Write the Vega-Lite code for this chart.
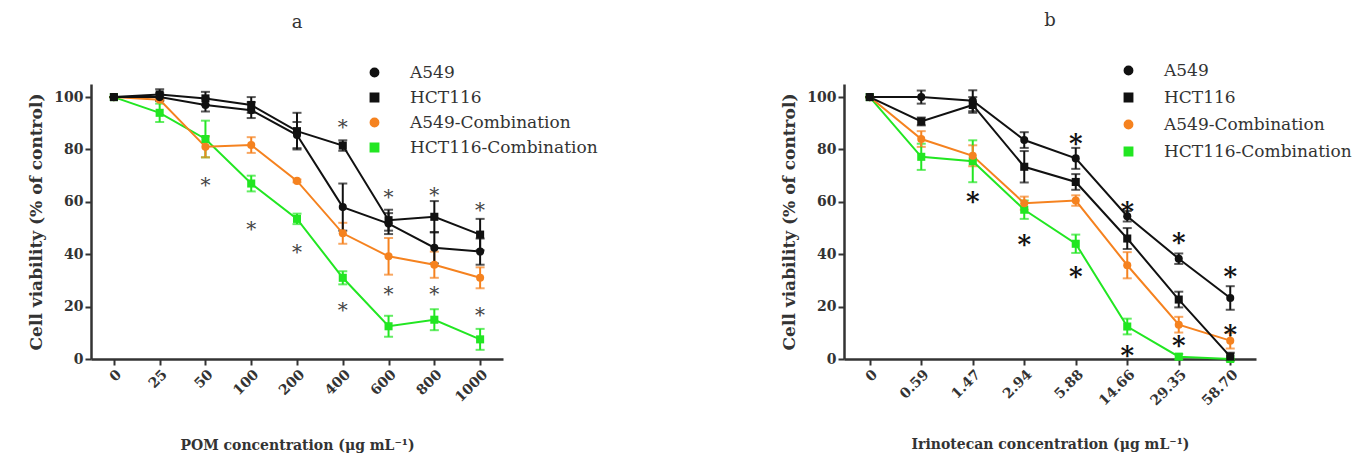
{
  "$schema": "https://vega.github.io/schema/vega-lite/v6.json",
  "background": "white",
  "padding": {"left": 27, "top": 12, "right": 5, "bottom": 5},
  "spacing": 182,
  "config": {
    "view": {"stroke": null},
    "font": "DejaVu Serif",
    "axis": {"domainColor": "#333", "domainWidth": 2.5, "tickColor": "#333", "tickWidth": 2, "tickSize": 6, "labelFont": "DejaVu Serif", "labelFontWeight": "bold", "labelFontSize": 14, "labelColor": "#333", "titleFont": "DejaVu Serif", "titleFontWeight": "bold", "titleFontSize": 14, "titleColor": "#333", "grid": false},
    "axisY": {"titleFontSize": 17},
    "title": {"font": "DejaVu Serif", "fontSize": 18, "fontWeight": "normal", "color": "#333", "anchor": "middle", "offset": 32},
    "legend": {"labelFont": "DejaVu Serif", "labelFontSize": 17, "labelColor": "#333", "labelLimit": 400, "symbolSize": 70, "symbolOpacity": 1, "labelOffset": 27, "rowPadding": 7, "padding": 0}
  },
  "datasets": {
    "a": [
      {"conc": "0", "series": "HCT116-Combination", "v": 100, "e": 0},
      {"conc": "25", "series": "HCT116-Combination", "v": 94, "e": 3.5},
      {"conc": "50", "series": "HCT116-Combination", "v": 84, "e": 7},
      {"conc": "100", "series": "HCT116-Combination", "v": 67, "e": 3},
      {"conc": "200", "series": "HCT116-Combination", "v": 53.5, "e": 2},
      {"conc": "400", "series": "HCT116-Combination", "v": 31, "e": 2.5},
      {"conc": "600", "series": "HCT116-Combination", "v": 12.5, "e": 4},
      {"conc": "800", "series": "HCT116-Combination", "v": 15, "e": 4},
      {"conc": "1000", "series": "HCT116-Combination", "v": 7.5, "e": 4},
      {"conc": "0", "series": "A549-Combination", "v": 100, "e": 0},
      {"conc": "25", "series": "A549-Combination", "v": 99, "e": 0},
      {"conc": "50", "series": "A549-Combination", "v": 81, "e": 4},
      {"conc": "100", "series": "A549-Combination", "v": 81.7, "e": 3},
      {"conc": "200", "series": "A549-Combination", "v": 68, "e": 0.5},
      {"conc": "400", "series": "A549-Combination", "v": 48, "e": 4},
      {"conc": "600", "series": "A549-Combination", "v": 39.2, "e": 7},
      {"conc": "800", "series": "A549-Combination", "v": 36, "e": 5},
      {"conc": "1000", "series": "A549-Combination", "v": 31, "e": 4},
      {"conc": "0", "series": "HCT116", "v": 100, "e": 0},
      {"conc": "25", "series": "HCT116", "v": 101, "e": 2},
      {"conc": "50", "series": "HCT116", "v": 99.5, "e": 2.5},
      {"conc": "100", "series": "HCT116", "v": 97, "e": 3},
      {"conc": "200", "series": "HCT116", "v": 87, "e": 7},
      {"conc": "400", "series": "HCT116", "v": 81.5, "e": 2},
      {"conc": "600", "series": "HCT116", "v": 53, "e": 4},
      {"conc": "800", "series": "HCT116", "v": 54.3, "e": 6},
      {"conc": "1000", "series": "HCT116", "v": 47.5, "e": 6},
      {"conc": "0", "series": "A549", "v": 100, "e": 0},
      {"conc": "25", "series": "A549", "v": 100, "e": 1.5},
      {"conc": "50", "series": "A549", "v": 97, "e": 2.5},
      {"conc": "100", "series": "A549", "v": 95, "e": 3},
      {"conc": "200", "series": "A549", "v": 85.5, "e": 5},
      {"conc": "400", "series": "A549", "v": 58, "e": 9},
      {"conc": "600", "series": "A549", "v": 51.7, "e": 4},
      {"conc": "800", "series": "A549", "v": 42.5, "e": 6},
      {"conc": "1000", "series": "A549", "v": 41, "e": 5}
    ],
    "starsA": [
      {"conc": "50", "v": 67.8}, {"conc": "100", "v": 51.3}, {"conc": "200", "v": 42.5},
      {"conc": "400", "v": 90}, {"conc": "400", "v": 20.3},
      {"conc": "600", "v": 63.2}, {"conc": "600", "v": 26.4},
      {"conc": "800", "v": 64}, {"conc": "800", "v": 26.4},
      {"conc": "1000", "v": 58.6}, {"conc": "1000", "v": 18.4}
    ],
    "b": [
      {"conc": "0", "series": "HCT116-Combination", "v": 100, "e": 0},
      {"conc": "0.59", "series": "HCT116-Combination", "v": 77.2, "e": 5},
      {"conc": "1.47", "series": "HCT116-Combination", "v": 75.5, "e": 8},
      {"conc": "2.94", "series": "HCT116-Combination", "v": 57, "e": 3.5},
      {"conc": "5.88", "series": "HCT116-Combination", "v": 44, "e": 3.5},
      {"conc": "14.66", "series": "HCT116-Combination", "v": 12.4, "e": 3},
      {"conc": "29.35", "series": "HCT116-Combination", "v": 0.9, "e": 1},
      {"conc": "58.70", "series": "HCT116-Combination", "v": 0, "e": 0},
      {"conc": "0", "series": "A549-Combination", "v": 100, "e": 0},
      {"conc": "0.59", "series": "A549-Combination", "v": 84, "e": 3},
      {"conc": "1.47", "series": "A549-Combination", "v": 77.6, "e": 4},
      {"conc": "2.94", "series": "A549-Combination", "v": 59.5, "e": 2.5},
      {"conc": "5.88", "series": "A549-Combination", "v": 60.5, "e": 2},
      {"conc": "14.66", "series": "A549-Combination", "v": 35.8, "e": 5},
      {"conc": "29.35", "series": "A549-Combination", "v": 13.1, "e": 3},
      {"conc": "58.70", "series": "A549-Combination", "v": 7, "e": 3},
      {"conc": "0", "series": "HCT116", "v": 100, "e": 0},
      {"conc": "0.59", "series": "HCT116", "v": 90.7, "e": 1.5},
      {"conc": "1.47", "series": "HCT116", "v": 97, "e": 3},
      {"conc": "2.94", "series": "HCT116", "v": 73.4, "e": 6},
      {"conc": "5.88", "series": "HCT116", "v": 67.6, "e": 3},
      {"conc": "14.66", "series": "HCT116", "v": 46, "e": 4},
      {"conc": "29.35", "series": "HCT116", "v": 22.7, "e": 3},
      {"conc": "58.70", "series": "HCT116", "v": 0.9, "e": 1.5},
      {"conc": "0", "series": "A549", "v": 100, "e": 0},
      {"conc": "0.59", "series": "A549", "v": 100, "e": 2.5},
      {"conc": "1.47", "series": "A549", "v": 98.6, "e": 4},
      {"conc": "2.94", "series": "A549", "v": 83.6, "e": 3},
      {"conc": "5.88", "series": "A549", "v": 76.6, "e": 4},
      {"conc": "14.66", "series": "A549", "v": 54.5, "e": 2},
      {"conc": "29.35", "series": "A549", "v": 38.3, "e": 2},
      {"conc": "58.70", "series": "A549", "v": 23.3, "e": 4.5}
    ],
    "starsB": [
      {"conc": "1.47", "v": 62.4}, {"conc": "2.94", "v": 46},
      {"conc": "5.88", "v": 84.2}, {"conc": "5.88", "v": 33.6},
      {"conc": "14.66", "v": 58.6}, {"conc": "14.66", "v": 3.5},
      {"conc": "29.35", "v": 46.5}, {"conc": "29.35", "v": 7.3},
      {"conc": "58.70", "v": 33.6}, {"conc": "58.70", "v": 11.4}
    ]
  },
  "hconcat": [
    {
      "width": 412,
      "height": 275,
      "title": "a",
      "encoding": {
        "x": {"field": "conc", "type": "ordinal", "sort": null,
              "scale": {"type": "point", "padding": 0.5, "domain": ["0", "25", "50", "100", "200", "400", "600", "800", "1000"]},
              "axis": {"title": "POM concentration (μg mL⁻¹)", "labelAngle": -45, "titlePadding": 34}},
        "y": {"field": "v", "type": "quantitative", "scale": {"domain": [0, 105], "nice": false},
              "axis": {"title": "Cell viability (% of control)", "values": [0, 20, 40, 60, 80, 100], "titlePadding": 8}}
      },
      "layer": [
        {
          "data": {"name": "a"},
          "encoding": {
            "color": {"field": "series", "type": "nominal",
                      "scale": {"domain": ["A549", "HCT116", "A549-Combination", "HCT116-Combination"], "range": ["#111111", "#111111", "#f5821f", "#22e622"]},
                      "legend": {"orient": "none", "legendX": 275, "legendY": -20, "title": null, "labelFont": "DejaVu Serif", "labelLimit": 400, "symbolOpacity": 1}}
          },
          "layer": [
            {"mark": {"type": "errorbar", "ticks": {"size": 9, "thickness": 2}, "thickness": 2},
             "encoding": {"yError": {"field": "e"}}},
            {"mark": {"type": "line", "strokeWidth": 2}},
            {"mark": {"type": "point", "filled": true, "opacity": 1, "size": 65},
             "encoding": {"shape": {"field": "series", "type": "nominal", "legend": null,
                      "scale": {"domain": ["A549", "HCT116", "A549-Combination", "HCT116-Combination"], "range": ["circle", "square", "circle", "square"]}}}}
          ]
        },
        {
          "data": {"name": "starsA"},
          "mark": {"type": "text", "text": "*", "fontSize": 20, "font": "DejaVu Serif", "color": "#444", "baseline": "alphabetic", "dy": 11}
        }
      ]
    },
    {
      "width": 412,
      "height": 275,
      "title": "b",
      "encoding": {
        "x": {"field": "conc", "type": "ordinal", "sort": null,
              "scale": {"type": "point", "padding": 0.5, "domain": ["0", "0.59", "1.47", "2.94", "5.88", "14.66", "29.35", "58.70"]},
              "axis": {"title": "Irinotecan concentration (μg mL⁻¹)", "labelAngle": -45, "titlePadding": 30}},
        "y": {"field": "v", "type": "quantitative", "scale": {"domain": [0, 105], "nice": false},
              "axis": {"title": "Cell viability (% of control)", "values": [0, 20, 40, 60, 80, 100], "titlePadding": 8}}
      },
      "layer": [
        {
          "data": {"name": "b"},
          "encoding": {
            "color": {"field": "series", "type": "nominal",
                      "scale": {"domain": ["A549", "HCT116", "A549-Combination", "HCT116-Combination"], "range": ["#111111", "#111111", "#f5821f", "#22e622"]},
                      "legend": {"orient": "none", "legendX": 276, "legendY": -22, "title": null, "rowPadding": 9, "labelFont": "DejaVu Serif", "labelLimit": 400, "symbolOpacity": 1}}
          },
          "layer": [
            {"mark": {"type": "errorbar", "ticks": {"size": 9, "thickness": 2}, "thickness": 2},
             "encoding": {"yError": {"field": "e"}}},
            {"mark": {"type": "line", "strokeWidth": 2}},
            {"mark": {"type": "point", "filled": true, "opacity": 1, "size": 65},
             "encoding": {"shape": {"field": "series", "type": "nominal", "legend": null,
                      "scale": {"domain": ["A549", "HCT116", "A549-Combination", "HCT116-Combination"], "range": ["circle", "square", "circle", "square"]}}}}
          ]
        },
        {
          "data": {"name": "starsB"},
          "mark": {"type": "text", "text": "*", "fontSize": 26, "font": "DejaVu Serif", "fontWeight": "bold", "color": "#111", "baseline": "alphabetic", "dy": 14}
        }
      ]
    }
  ],
  "resolve": {"scale": {"color": "independent", "shape": "independent", "x": "independent", "y": "independent"}, "legend": {"color": "independent", "shape": "independent"}}
}
